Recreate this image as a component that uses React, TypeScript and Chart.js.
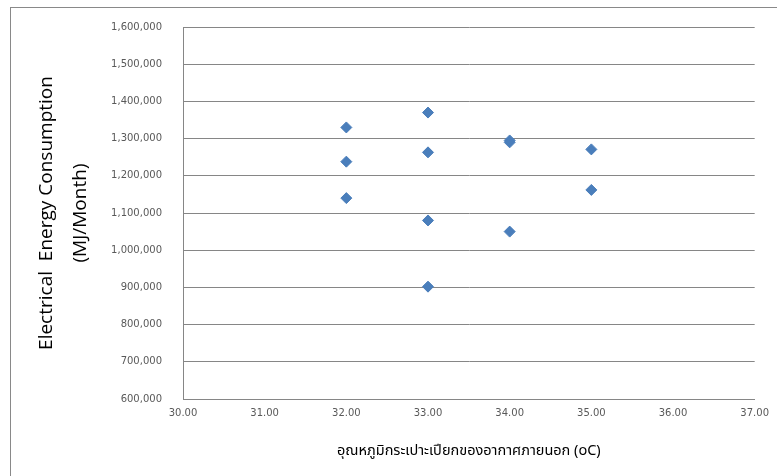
import React, { useEffect, useRef } from "react";
import { Chart, registerables } from "chart.js";

Chart.register(...registerables);

// Data (outdoor wet-bulb temperature vs. electrical energy consumption)
const xValues = [32, 32, 32, 33, 33, 33, 33, 34, 34, 34, 35, 35];
const yValues = [1330000, 1238000, 1140000, 1370000, 1263000, 1080000, 902000, 1295000, 1290000, 1050000, 1271000, 1162000];

const xTitle = "อุณหภูมิกระเปาะเปียกของอากาศภายนอก (oC)";
const yTitle = ["Electrical  Energy Consumption", "(MJ/Month)"];

const xMin = 30;
const xMax = 37;
const xStep = 1;
const yMin = 600000;
const yMax = 1600000;
const yStep = 100000;

const frame = {
  id: "frame",
  beforeDraw(chart: any) {
    const ctx = chart.ctx;
    ctx.save();
    ctx.fillStyle = "#ffffff";
    ctx.fillRect(0, 0, chart.width, chart.height);
    ctx.strokeStyle = "#898989";
    ctx.lineWidth = 1;
    ctx.strokeRect(10.5, 7.5, 1000, 1000);
    ctx.restore();
  },
};

export default function App() {
  const ref = useRef<HTMLCanvasElement | null>(null);

  useEffect(() => {
    if (!ref.current) return;
    const points = xValues.map((x, i) => ({ x, y: yValues[i] }));
    const tickFont = { family: "Tahoma, 'DejaVu Sans', sans-serif", size: 10 };
    const chart = new Chart(ref.current, {
      type: "scatter",
      data: {
        datasets: [
          {
            data: points,
            pointStyle: "rectRot",
            pointRadius: 5.5,
            pointBackgroundColor: "#4A7EBB",
            pointBorderColor: "#4A7EBB",
            pointBorderWidth: 1,
          },
        ],
      },
      options: {
        responsive: false,
        animation: false,
        events: [],
        layout: { padding: { top: 27, right: 20, left: 0, bottom: 0 } },
        plugins: { legend: { display: false }, tooltip: { enabled: false } },
        scales: {
          x: {
            type: "linear",
            min: xMin,
            max: xMax,
            afterFit: (s: any) => {
              s.height = 77;
            },
            ticks: {
              stepSize: xStep,
              color: "#595959",
              font: tickFont,
              padding: 8,
              maxRotation: 0,
              callback: (v: any) => Number(v).toFixed(2),
            },
            grid: { display: false, drawTicks: false },
            border: { display: true, color: "#868686", width: 1 },
            title: {
              display: true,
              text: xTitle,
              color: "#000000",
              font: { family: "Tahoma, 'Noto Sans Thai', 'Noto Sans', sans-serif", size: 14.5 },
              padding: { top: 0, bottom: 15 },
            },
          },
          y: {
            type: "linear",
            min: yMin,
            max: yMax,
            afterFit: (s: any) => {
              s.width = 183;
            },
            ticks: {
              stepSize: yStep,
              color: "#595959",
              font: tickFont,
              padding: 21,
              callback: (v: any) => Number(v).toLocaleString("en-US"),
            },
            grid: { color: "#868686", drawTicks: false, lineWidth: 1 },
            border: { display: true, color: "#868686", width: 1 },
            title: {
              display: true,
              text: yTitle,
              color: "#000000",
              font: { family: "'Open Sans', 'Noto Sans', sans-serif", size: 19, lineHeight: 1.79 },
              padding: { top: 30, bottom: 0 },
            },
          },
        },
      },
      plugins: [frame],
    });
    return () => chart.destroy();
  }, []);

  return (
    <div style={{ position: "fixed", left: 0, top: 0, width: 777, height: 476 }}>
      <canvas ref={ref} width={777} height={476} />
    </div>
  );
}
